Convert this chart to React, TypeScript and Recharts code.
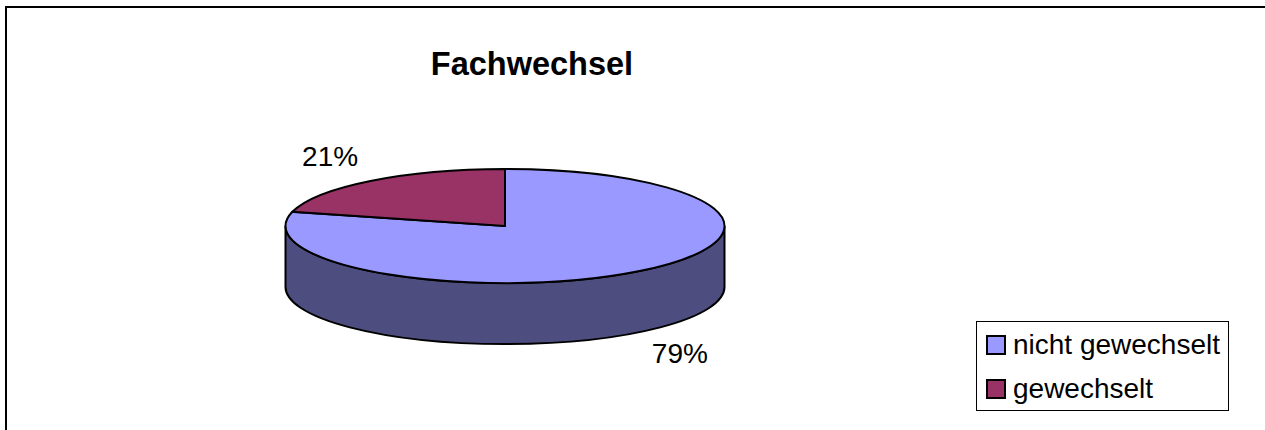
import React from 'react';
import { PieChart, Pie, Cell, Legend } from 'recharts';

const categories = ['nicht gewechselt', 'gewechselt'];
const shares = [79, 21];
const topColors = ['#9999FF', '#993366'];
const sideColors = ['#4D4D80', '#4D1A33'];

const chartData = categories.map((name, i) => ({ name, value: shares[i] }));

const SQUASH = 0.26;
const DEPTH = 61;
const RAD = Math.PI / 180;

// flattened sector with the wall below it, angles come from the Pie
const Sector3D = (props: any) => {
  const { cx, cy, outerRadius, startAngle, endAngle, fill, index } = props;
  const ry = outerRadius * SQUASH;
  const pt = (a: number) => [cx + outerRadius * Math.cos(a * RAD), cy - ry * Math.sin(a * RAD)];
  const [x0, y0] = pt(startAngle);
  const [x1, y1] = pt(endAngle);
  const large = Math.abs(endAngle - startAngle) > 180 ? 1 : 0;

  // only the front of the rim shows, 0 to -180 degrees
  const hi = Math.min(startAngle, 0);
  const lo = Math.max(endAngle, -180);
  let wall = null;
  if (hi > lo) {
    const [ax, ay] = pt(hi);
    const [bx, by] = pt(lo);
    wall = (
      <path
        d={`M${ax},${ay} A${outerRadius},${ry} 0 0 1 ${bx},${by} L${bx},${by + DEPTH} A${outerRadius},${ry} 0 0 0 ${ax},${ay + DEPTH} Z`}
        fill={sideColors[index]}
        stroke="#000"
        strokeWidth={2}
      />
    );
  }
  return (
    <g>
      {wall}
      <path
        d={`M${cx},${cy} L${x0},${y0} A${outerRadius},${ry} 0 ${large} 1 ${x1},${y1} Z`}
        fill={fill}
        stroke="#000"
        strokeWidth={2}
      />
    </g>
  );
};

const renderLabel = (props: any) => {
  const { index, percent, cx, cy, outerRadius, midAngle } = props;
  const lx = cx + outerRadius * 1.3 * Math.cos(midAngle * RAD);
  const ly = cy - outerRadius * SQUASH * 1.3 * Math.sin(midAngle * RAD);
  return (
    <text
      key={index}
      x={lx}
      y={ly + (index === 0 ? 69 : -11)}
      textAnchor="middle"
      dominantBaseline="central"
      fontSize={28}
      fontFamily="Liberation Sans"
      fill="#000"
    >
      {Math.round(percent * 100)}%
    </text>
  );
};

const LegendBox = () => (
  <div
    style={{
      width: 253,
      height: 90,
      boxSizing: 'border-box',
      border: '1px solid #000',
      background: '#fff',
      fontFamily: 'Liberation Sans',
      fontSize: 28,
      color: '#000',
      paddingTop: 1,
    }}
  >
    {categories.map((name, i) => (
      <div key={name} style={{ display: 'flex', alignItems: 'center', height: 44, paddingLeft: 9 }}>
        <span
          style={{
            width: 20,
            height: 20,
            boxSizing: 'border-box',
            border: '2px solid #000',
            background: topColors[i],
            marginRight: 7,
          }}
        />
        {name}
      </div>
    ))}
  </div>
);

export default function App() {
  return (
    <div style={{ position: 'fixed', left: 0, top: 0, width: 1265, height: 430, background: '#fff', overflow: 'hidden' }}>
      <div
        style={{
          position: 'absolute',
          left: 5,
          top: 6,
          width: 1300,
          height: 460,
          boxSizing: 'border-box',
          border: '2px solid #000',
        }}
      />
      <PieChart
        width={1265}
        height={430}
        margin={{ top: 0, right: 0, bottom: 0, left: 0 }}
        style={{ position: 'absolute', left: 0, top: 0 }}
      >
        <text
          x={532}
          y={64}
          textAnchor="middle"
          dominantBaseline="central"
          fontSize={32.5}
          fontWeight="bold"
          fontFamily="Liberation Sans"
          fill="#000"
        >
          Fachwechsel
        </text>
        <Pie
          data={chartData}
          dataKey="value"
          nameKey="name"
          cx={505}
          cy={226}
          outerRadius={219.5}
          startAngle={90}
          endAngle={-270}
          isAnimationActive={false}
          shape={Sector3D}
          label={renderLabel}
          labelLine={false}
        >
          {chartData.map((d, i) => (
            <Cell key={d.name} fill={topColors[i]} />
          ))}
        </Pie>
        <Legend
          content={<LegendBox />}
          layout="vertical"
          wrapperStyle={{ position: 'absolute', left: 976, top: 321, width: 253, height: 90 }}
        />
      </PieChart>
    </div>
  );
}
